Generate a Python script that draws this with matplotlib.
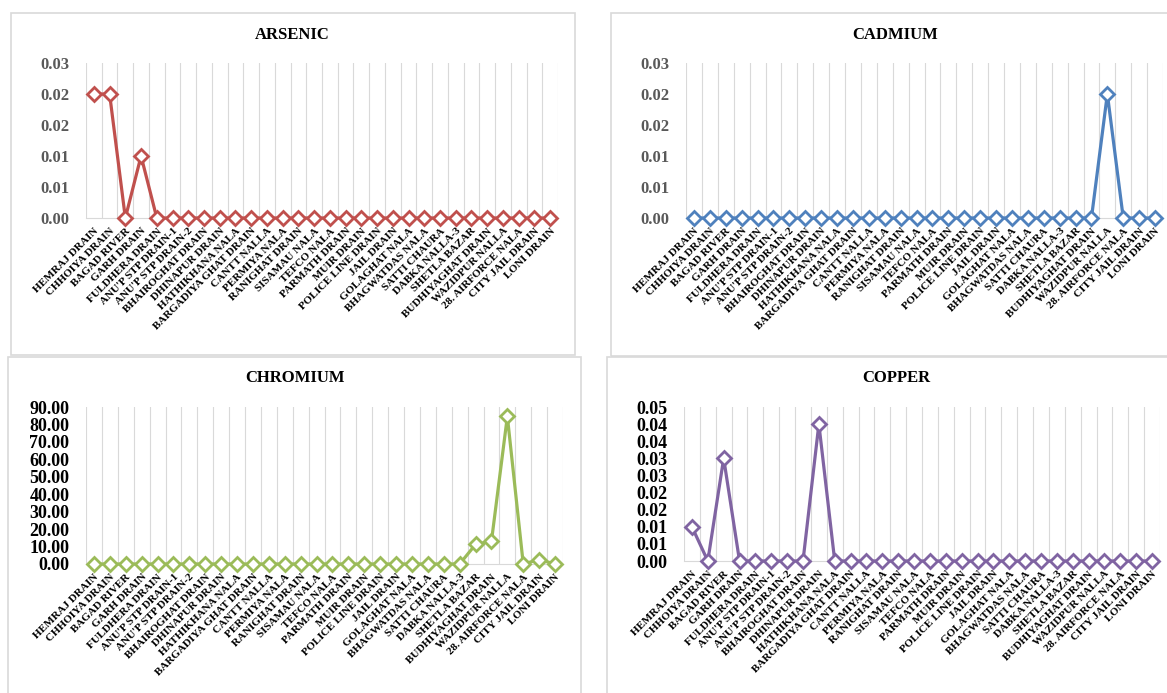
import math
import numpy as np
import matplotlib
matplotlib.use("Agg")
import matplotlib.pyplot as plt
from matplotlib.patches import Rectangle
from matplotlib.ticker import FuncFormatter

# sampling points (same order in all four panels)
sites = ["HEMRAJ DRAIN", "CHHOIYA DRAIN", "BAGAD RIVER", "GARH DRAIN",
         "FULDHERA DRAIN", "ANU'P STP DRAIN-1", "ANU'P STP DRAIN-2",
         "BHAIROGHAT DRAIN", "DHINAPUR DRAIN", "HATHIKHANA NALA",
         "BARGADIYA GHAT DRAIN", "CANTT NALLA", "PERMIYA NALA",
         "RANIGHAT DRAIN", "SISAMAU NALA", "TEFCO NALA", "PARMATH DRAIN",
         "MUIR DRAIN", "POLICE LINE DRAIN", "JAIL DRAIN", "GOLAGHAT NALA",
         "BHAGWATDAS NALA", "SATTI CHAURA", "DABKA NALLA-3", "SHETLA BAZAR",
         "BUDHIYAGHAT DRAIN", "WAZIDPUR NALLA", "28. AIRFORCE NALA",
         "CITY JAIL DRAIN", "LONI DRAIN"]

arsenic = [0.02, 0.02, 0.0, 0.01, 0.0, 0.0, 0.0, 0.0, 0.0, 0.0,
           0.0, 0.0, 0.0, 0.0, 0.0, 0.0, 0.0, 0.0, 0.0, 0.0,
           0.0, 0.0, 0.0, 0.0, 0.0, 0.0, 0.0, 0.0, 0.0, 0.0]
cadmium = [0.0, 0.0, 0.0, 0.0, 0.0, 0.0, 0.0, 0.0, 0.0, 0.0,
           0.0, 0.0, 0.0, 0.0, 0.0, 0.0, 0.0, 0.0, 0.0, 0.0,
           0.0, 0.0, 0.0, 0.0, 0.0, 0.0, 0.02, 0.0, 0.0, 0.0]
chromium = [0.0, 0.0, 0.0, 0.0, 0.0, 0.0, 0.0, 0.0, 0.0, 0.0,
            0.0, 0.0, 0.0, 0.0, 0.0, 0.0, 0.0, 0.0, 0.0, 0.0,
            0.0, 0.0, 0.0, 0.0, 11.2, 13.0, 84.6, 0.0, 2.5, 0.0]
copper = [0.01, 0.0, 0.03, 0.0, 0.0, 0.0, 0.0, 0.0, 0.04, 0.0,
          0.0, 0.0, 0.0, 0.0, 0.0, 0.0, 0.0, 0.0, 0.0, 0.0,
          0.0, 0.0, 0.0, 0.0, 0.0, 0.0, 0.0, 0.0, 0.0, 0.0]

W, H = 1167, 693
plt.rcParams['font.family'] = ['Liberation Serif', 'DejaVu Serif']

fig = plt.figure(figsize=(W / 100, H / 100), dpi=100)
fig.patch.set_facecolor('white')


def px_rect(left, top, right, bottom):
    # pixel box (y down) -> figure fraction [l, b, w, h]
    return [left / W, 1 - bottom / H, (right - left) / W, (bottom - top) / H]


def fmt_half_up(v, pos):
    # Excel-style rounding of tick labels (0.005 -> 0.01)
    return "%.2f" % (math.floor(v * 100 + 0.5 + 1e-9) / 100)


# panel frames
frames = [(11, 13, 575, 355), (611, 13, 1172, 356),
          (8, 357, 581, 698), (607, 357, 1172, 698)]
for l, t, r, b in frames:
    fig.patches.append(Rectangle((l / W, 1 - b / H), (r - l) / W, (b - t) / H,
                                 transform=fig.transFigure, fill=False,
                                 edgecolor='#D9D9D9', linewidth=1.2))

panels = [
    ("ARSENIC", arsenic, '#C0504D', (86, 63, 558, 218), 0.025, 0.005, '#595959', 12, (292, 35)),
    ("CADMIUM", cadmium, '#4F81BD', (686, 63, 1163, 218), 0.025, 0.005, '#595959', 12, (895, 35)),
    ("CHROMIUM", chromium, '#9BBB59', (86, 407, 563, 564), 90, 10, 'black', 13, (295, 378)),
    ("COPPER", copper, '#8064A2', (684, 407, 1160, 561), 0.045, 0.005, 'black', 13, (896, 378)),
]

x = np.arange(len(sites))
for title, vals, color, box, ymax, step, tcol, tsize, tpos in panels:
    ax = fig.add_axes(px_rect(*box))
    ax.plot(x, vals, color=color, linewidth=2.3, marker='D', markersize=7,
            markerfacecolor='white', markeredgecolor=color, markeredgewidth=2,
            clip_on=False, zorder=3)
    ax.set_xlim(-0.5, len(sites) - 0.5)
    ax.set_ylim(0, ymax)
    ax.set_yticks(np.linspace(0, ymax, int(round(ymax / step)) + 1))
    ax.yaxis.set_major_formatter(FuncFormatter(fmt_half_up))
    ax.set_xticks(x)
    ax.set_xticklabels(sites, rotation=45, ha='right', va='top',
                       rotation_mode='anchor', fontsize=8, fontweight='bold')
    ax.set_xticks(np.arange(-0.5, len(sites)), minor=True)
    ax.grid(True, which='minor', axis='x', color='#D9D9D9', linewidth=0.8)
    ax.tick_params(axis='both', which='both', length=0)
    ax.tick_params(axis='x', pad=6)
    ax.tick_params(axis='y', pad=12, labelsize=tsize, labelcolor=tcol)
    for lab in ax.get_yticklabels():
        lab.set_fontweight('bold')
    for side in ['top', 'right', 'left']:
        ax.spines[side].set_visible(False)
    ax.spines['bottom'].set_color('#D9D9D9')
    fig.text(tpos[0] / W, 1 - tpos[1] / H, title, ha='center', va='center',
             fontsize=12, fontweight='bold')

fig.savefig('out.png', dpi=100)
